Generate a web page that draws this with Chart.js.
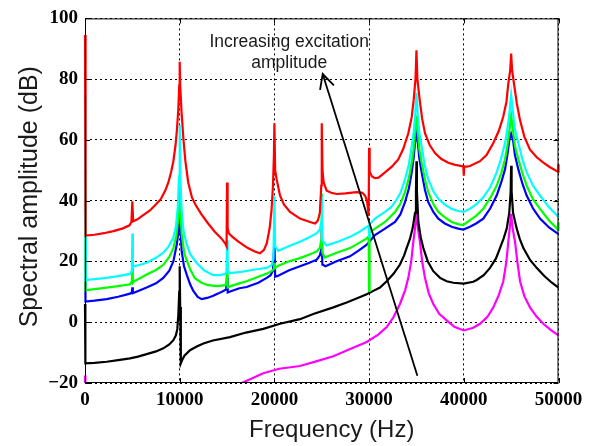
<!DOCTYPE html>
<html><head><meta charset="utf-8">
<script src="https://cdn.jsdelivr.net/npm/chart.js@4/dist/chart.umd.min.js"></script>
<style>html,body{margin:0;padding:0;background:#fff}#wrap{width:603px;height:446px;position:relative}</style>
</head><body><div id="wrap"><canvas id="c" width="603" height="446"></canvas></div>
<script>
// ---- data (frequency in Hz, amplitude in dB) ----
const red = [[0,94.5],[60,28.5],[1000,28.8],[2000,29.3],[3000,30],[4000,30.9],[4700,31.9],[4900,33],[5000,39.8],[5080,33.2],[5500,33.8],[6000,34.9],[6860,36.8],[7500,38.8],[8000,40.5],[8500,43.5],[8800,46],[9100,49.5],[9330,53],[9550,58],[9700,63],[9850,70],[9950,78],[10000,85.7],[10050,78],[10200,69],[10400,60],[10600,53],[10900,46],[11300,41],[11700,38.5],[12300,35.5],[13000,32.5],[13700,29.8],[14400,27.6],[14800,26],[14950,25],[15000,46],[15060,31],[15200,29.2],[15600,28],[16200,26.5],[17200,24.4],[18000,23.2],[18480,22.7],[18900,23.8],[19200,26],[19500,31],[19700,37],[19850,45],[19950,55],[20000,65.5],[20080,50],[20240,47],[20590,41.7],[21000,38.8],[21650,36.3],[22700,34.1],[23760,33],[24300,32.5],[24600,33.5],[24800,36],[24950,45],[25000,65.5],[25080,50],[25200,46],[25520,43.3],[26000,42.6],[26580,42.2],[27500,42.4],[28690,42.8],[29300,42.6],[29600,41.5],[29800,39.5],[29950,35],[30000,57.4],[30060,49.5],[30300,48],[30620,47.4],[31000,47.6],[31680,49.3],[32400,51.2],[33080,53.6],[33600,57],[34140,62.2],[34500,67.5],[34700,73],[34900,80],[35000,89.5],[35100,80],[35350,73],[35600,67],[35900,62.2],[36400,58.3],[36960,55.7],[37600,53.8],[38360,52.5],[39100,51.8],[39800,51.4],[39950,51.4],[40000,48.2],[40040,51.2],[40300,51.2],[40650,51.4],[41710,53],[42400,55],[43120,59],[43700,63],[44170,67.7],[44500,72.5],[44700,78.5],[44900,83],[45000,88.4],[45100,83],[45300,78.5],[45600,72],[45930,66.6],[46400,61],[46990,56.8],[47700,54.3],[48400,52.5],[49100,51],[49810,49.8],[49950,49.6],[50000,52]];
const cyan = [[0,75],[50,13.9],[1000,14.2],[2290,14.6],[3500,15.2],[4750,15.9],[4950,16.8],[5000,29.2],[5060,18.3],[5300,18.5],[6000,19.1],[6510,19.6],[7500,21.2],[8270,22.9],[8800,24.8],[9330,27.8],[9600,31.5],[9800,38],[9930,48],[10000,65],[10070,48],[10200,37],[10380,30.5],[10700,26],[11100,22.5],[11790,19.5],[12600,17],[13550,15.5],[14300,15.5],[14800,15.9],[14950,16.5],[15000,27],[15060,17],[15300,16.2],[16500,16.6],[17600,17.2],[18500,17.6],[19190,17.9],[19700,18.8],[19900,21],[20000,41.5],[20080,25],[20410,23.5],[21500,25],[22700,26.5],[23700,28],[24470,29.3],[24800,30.5],[24950,33],[25000,41.7],[25060,27],[25500,25.3],[26700,26.5],[27980,28.1],[29000,29.8],[29750,31.4],[29950,31.8],[30000,28.2],[30060,32.3],[30620,34.1],[31680,36.3],[32300,37.8],[32740,39.5],[33300,42.5],[33790,47],[34200,52],[34500,57.9],[34700,62.5],[34850,67.7],[35000,75.5],[35150,67.7],[35300,62.5],[35550,57.9],[35850,52],[36250,47],[36800,43],[37310,40.6],[38000,38.7],[38720,37.3],[39400,36.6],[39950,36.3],[40650,37.3],[41300,38.8],[42060,41.1],[42800,44.5],[43470,49.3],[43950,54],[44350,59],[44600,63.5],[44810,68.7],[45000,74.7],[45200,68.7],[45400,63.5],[45760,59],[46200,53.5],[46640,49.3],[47300,45],[48050,41.7],[49000,37.8],[50000,34.6]];
const green = [[0,50],[50,10.5],[1000,10.9],[2290,11.4],[3500,11.9],[4750,12.5],[4950,13.5],[5000,17.9],[5050,13],[5190,13.5],[6000,14.8],[6510,15.7],[7500,17.2],[8270,18.9],[8900,21.5],[9330,24.4],[9650,28.5],[9850,34],[10000,45.5],[10100,35],[10210,29],[10500,22.5],[11090,17.5],[11600,14.5],[12300,13],[13000,12.2],[14000,11.9],[14800,12.2],[14950,13],[15000,20],[15060,11.5],[15300,11.8],[16300,12.8],[17070,13.5],[18300,15],[19190,16],[19700,16.8],[19950,17.5],[20000,19.5],[20060,17.8],[20410,18.6],[21500,20],[22700,21.1],[23700,22.3],[24470,23.3],[24800,24.5],[24950,27],[25000,42.4],[25060,23],[25300,21.3],[26500,22.8],[27980,24.4],[29000,26.2],[29750,27.6],[29950,28.2],[30000,10.3],[30050,29.5],[30620,30.8],[31680,33],[32740,36.3],[33300,39],[33790,42.8],[34200,47.5],[34500,52.5],[34700,57],[34850,62.3],[35000,68],[35150,62.3],[35300,57],[35550,52.5],[35900,47],[36250,42.8],[36800,38.8],[37310,36.3],[38000,34.5],[38720,33],[39400,32.3],[39950,32],[40650,33.6],[41300,35],[42060,37.3],[42800,41],[43470,44.9],[43950,49],[44350,53.6],[44600,58],[44810,63],[45000,68],[45200,63],[45400,58],[45760,53.6],[46200,49],[46640,44.9],[47300,40.5],[48050,37.3],[49000,33.5],[49950,30.5],[50000,33]];
const blue = [[0,40],[50,6.8],[1000,7.1],[2290,7.6],[3500,8.4],[4750,9.4],[4950,9.8],[5000,11.5],[5050,9.6],[5300,9.9],[6510,11.4],[7500,12.8],[8270,14.6],[8900,17],[9330,20],[9680,25.4],[9880,30],[10000,37],[10100,30],[10210,23.3],[10450,18.5],[10740,15.7],[11100,12.5],[11440,10.3],[11900,8.3],[12320,7.6],[12900,8],[13550,8.7],[14100,9.5],[14610,10.3],[14900,10.8],[15000,15],[15070,9.8],[15400,10.2],[16300,11.2],[17070,11.6],[18300,13],[19190,14.6],[19600,15.5],[19850,17],[20000,27],[20080,15],[20400,15.3],[21500,17],[22700,18.4],[23700,19.6],[24470,20.6],[24800,22],[24950,24],[25000,31],[25060,19],[25400,18.4],[26500,20],[27980,21.7],[29000,23.8],[29750,25.5],[30620,28.7],[31680,30.8],[32740,33],[33300,35.5],[33790,39.5],[34200,44],[34500,49.3],[34700,54],[34850,59],[35000,63],[35150,59],[35300,54],[35550,49.3],[35900,43.5],[36250,39.5],[36800,36.2],[37310,34.1],[38000,32.5],[38720,31.4],[39400,30.8],[39950,30.5],[40650,31.4],[41300,32.5],[42060,34.1],[42800,37.5],[43470,41.7],[43950,46],[44350,50.3],[44600,55],[44810,60],[45000,62],[45200,60],[45400,55],[45760,50.3],[46200,45.5],[46640,41.7],[47300,37.5],[48050,34.1],[49000,31.2],[50000,29]];
const black = [[0,6],[40,-13.5],[1000,-13.4],[2290,-13],[3500,-12.5],[4750,-11.9],[5600,-11.3],[6510,-10.5],[7500,-9.6],[8270,-8.6],[8900,-7.3],[9330,-5.9],[9600,-4.3],[9750,-2.2],[9860,2.7],[9950,10],[10000,18.4],[10050,5],[10120,-13.5],[10250,-12.5],[10500,-11],[11090,-9.2],[11800,-8],[12500,-7],[13500,-6],[15310,-4.9],[17000,-3.4],[18830,-2.2],[20590,-0.5],[22700,1],[24110,2.7],[26220,4.9],[27630,6.5],[28800,8],[29750,9.2],[30500,10.4],[31150,11.4],[31860,13.5],[32600,16],[33260,19],[33700,22],[33960,24.4],[34320,27.5],[34600,31],[34850,36],[34950,43],[35000,53],[35050,43],[35200,33],[35450,28],[35730,24.4],[36200,20],[36780,16.8],[37490,14.6],[38190,13.5],[38900,13],[39990,12.7],[41000,13.3],[41360,13.9],[42100,15.5],[42770,17.9],[43400,21],[43820,24.4],[44200,27.5],[44530,30.8],[44800,36],[44950,43],[45000,51.5],[45050,43],[45200,36],[45590,30.8],[45900,27.5],[46290,24.4],[47000,20.5],[47690,17.9],[48500,15.2],[49300,13],[50000,11.4]];
const magenta = [[0,-17.5],[40,-31],[5000,-29],[10000,-26.5],[15000,-22],[16550,-20],[18830,-16.8],[20500,-15.3],[22700,-14.4],[24500,-12.8],[26220,-11.2],[28000,-8.8],[29750,-6.5],[31000,-4],[31860,-1.6],[32600,1.8],[33260,6],[33800,10.5],[34140,14.6],[34450,20],[34670,26.5],[34850,31],[35000,36.8],[35150,31],[35370,26.5],[35600,20],[35900,14.6],[36300,9.5],[36780,6],[37400,2.8],[38190,0.6],[39000,-1.5],[39990,-2.7],[41000,-1.8],[41710,-0.5],[42500,1.8],[43120,4.9],[43700,9],[44170,13.5],[44500,20],[44700,26.5],[44850,31],[45000,35.7],[45150,31],[45410,26.5],[45650,20],[45940,13.5],[46400,8.5],[46990,4.9],[47700,1.8],[48400,-0.5],[49200,-2.6],[50000,-4.3]];

const xTicks = [0, 10000, 20000, 30000, 40000, 50000];
const yTicks = [-20, 0, 20, 40, 60, 80, 100];
const xTitle = 'Frequency (Hz)';
const yTitle = 'Spectral amplitude (dB)';
const noteLines = ['Increasing excitation', 'amplitude'];
const notePos = [[21560, 92.1], [21560, 85.4]];
const arrowTail = [35100, -17.6];
const arrowTip = [25100, 81.7];

const seriesList = [
  {data: red, color: '#ff0000'},
  {data: cyan, color: '#00ffff'},
  {data: green, color: '#00ff00'},
  {data: blue, color: '#0000ff'},
  {data: black, color: '#000000'},
  {data: magenta, color: '#ff00ff'}
];

const tickFont = {family: "'Liberation Serif', 'Times New Roman', serif", weight: 'bold', size: 19};

const decor = {
  id: 'decor',
  afterDraw(chart) {
    const {ctx, chartArea: a, scales: {x, y}} = chart;
    ctx.save();
    // frame
    ctx.strokeStyle = '#000'; ctx.lineWidth = 1; ctx.setLineDash([]);
    ctx.strokeRect(a.left + 0.5, a.top + 0.5, a.right - a.left - 1, a.bottom - a.top - 1);
    // inward ticks
    ctx.beginPath();
    yTicks.forEach(v => { const p = Math.round(y.getPixelForValue(v)) + 0.5;
      ctx.moveTo(a.left, p); ctx.lineTo(a.left + 5, p);
      ctx.moveTo(a.right, p); ctx.lineTo(a.right - 5, p); });
    xTicks.forEach(v => { const p = Math.round(x.getPixelForValue(v)) + 0.5;
      ctx.moveTo(p, a.bottom); ctx.lineTo(p, a.bottom - 5);
      ctx.moveTo(p, a.top); ctx.lineTo(p, a.top + 5); });
    ctx.stroke();
    // axis titles
    ctx.fillStyle = '#1a1a1a';
    ctx.font = "24px 'Liberation Sans', Arial, sans-serif";
    ctx.textAlign = 'center'; ctx.textBaseline = 'middle';
    ctx.fillText(xTitle, (a.left + a.right) / 2 + 10, 430);
    ctx.save();
    ctx.translate(30, (a.top + a.bottom) / 2 - 4);
    ctx.rotate(-Math.PI / 2);
    ctx.font = "25px 'Liberation Sans', Arial, sans-serif";
    ctx.fillText(yTitle, 0, 0);
    ctx.restore();
    // annotation text
    ctx.font = "17.5px 'Liberation Sans', Arial, sans-serif";
    noteLines.forEach((t, i) => ctx.fillText(t, x.getPixelForValue(notePos[i][0]), y.getPixelForValue(notePos[i][1])));
    // arrow
    const x0 = x.getPixelForValue(arrowTail[0]), y0 = y.getPixelForValue(arrowTail[1]);
    const x1 = x.getPixelForValue(arrowTip[0]), y1 = y.getPixelForValue(arrowTip[1]);
    ctx.strokeStyle = '#000'; ctx.lineWidth = 1.8;
    ctx.beginPath(); ctx.moveTo(x0, y0); ctx.lineTo(x1, y1); ctx.stroke();
    const ang = Math.atan2(y0 - y1, x0 - x1), L = 16, w = 0.47;
    ctx.beginPath();
    ctx.moveTo(x1 + L * Math.cos(ang - w), y1 + L * Math.sin(ang - w));
    ctx.lineTo(x1, y1);
    ctx.lineTo(x1 + L * Math.cos(ang + w), y1 + L * Math.sin(ang + w));
    ctx.stroke();
    ctx.restore();
  }
};

new Chart(document.getElementById('c'), {
  type: 'line',
  data: {
    datasets: seriesList.map(s => ({
      data: s.data.map(p => ({x: p[0], y: p[1]})),
      borderColor: s.color, borderWidth: 2.2, pointRadius: 0, tension: 0,
      fill: false, clip: {left: 2, right: 2, top: 0, bottom: 0}
    }))
  },
  options: {
    responsive: false, animation: false, devicePixelRatio: 1,
    layout: {padding: {left: 0, top: 13.5, right: 44.5, bottom: 0}},
    plugins: {legend: {display: false}, tooltip: {enabled: false}},
    scales: {
      x: {
        type: 'linear', min: 0, max: 50000,
        afterFit: s => { s.height = 63; },
        afterBuildTicks: s => { s.ticks = xTicks.map(v => ({value: v})); },
        ticks: {callback: v => String(v), font: tickFont, color: '#000', padding: 6, maxRotation: 0, autoSkip: false},
        grid: {color: '#000', lineWidth: 1, drawTicks: false},
        border: {display: false, dash: [2, 3]}
      },
      y: {
        type: 'linear', min: -20, max: 100,
        afterFit: s => { s.width = 85; },
        afterBuildTicks: s => { s.ticks = yTicks.map(v => ({value: v})); },
        ticks: {callback: v => v < 0 ? '\u2212' + Math.abs(v) : String(v), font: tickFont, color: '#000', padding: 7, autoSkip: false},
        grid: {color: '#000', lineWidth: 1, drawTicks: false},
        border: {display: false, dash: [2, 3]}
      }
    }
  },
  plugins: [decor]
});
</script></body></html>
